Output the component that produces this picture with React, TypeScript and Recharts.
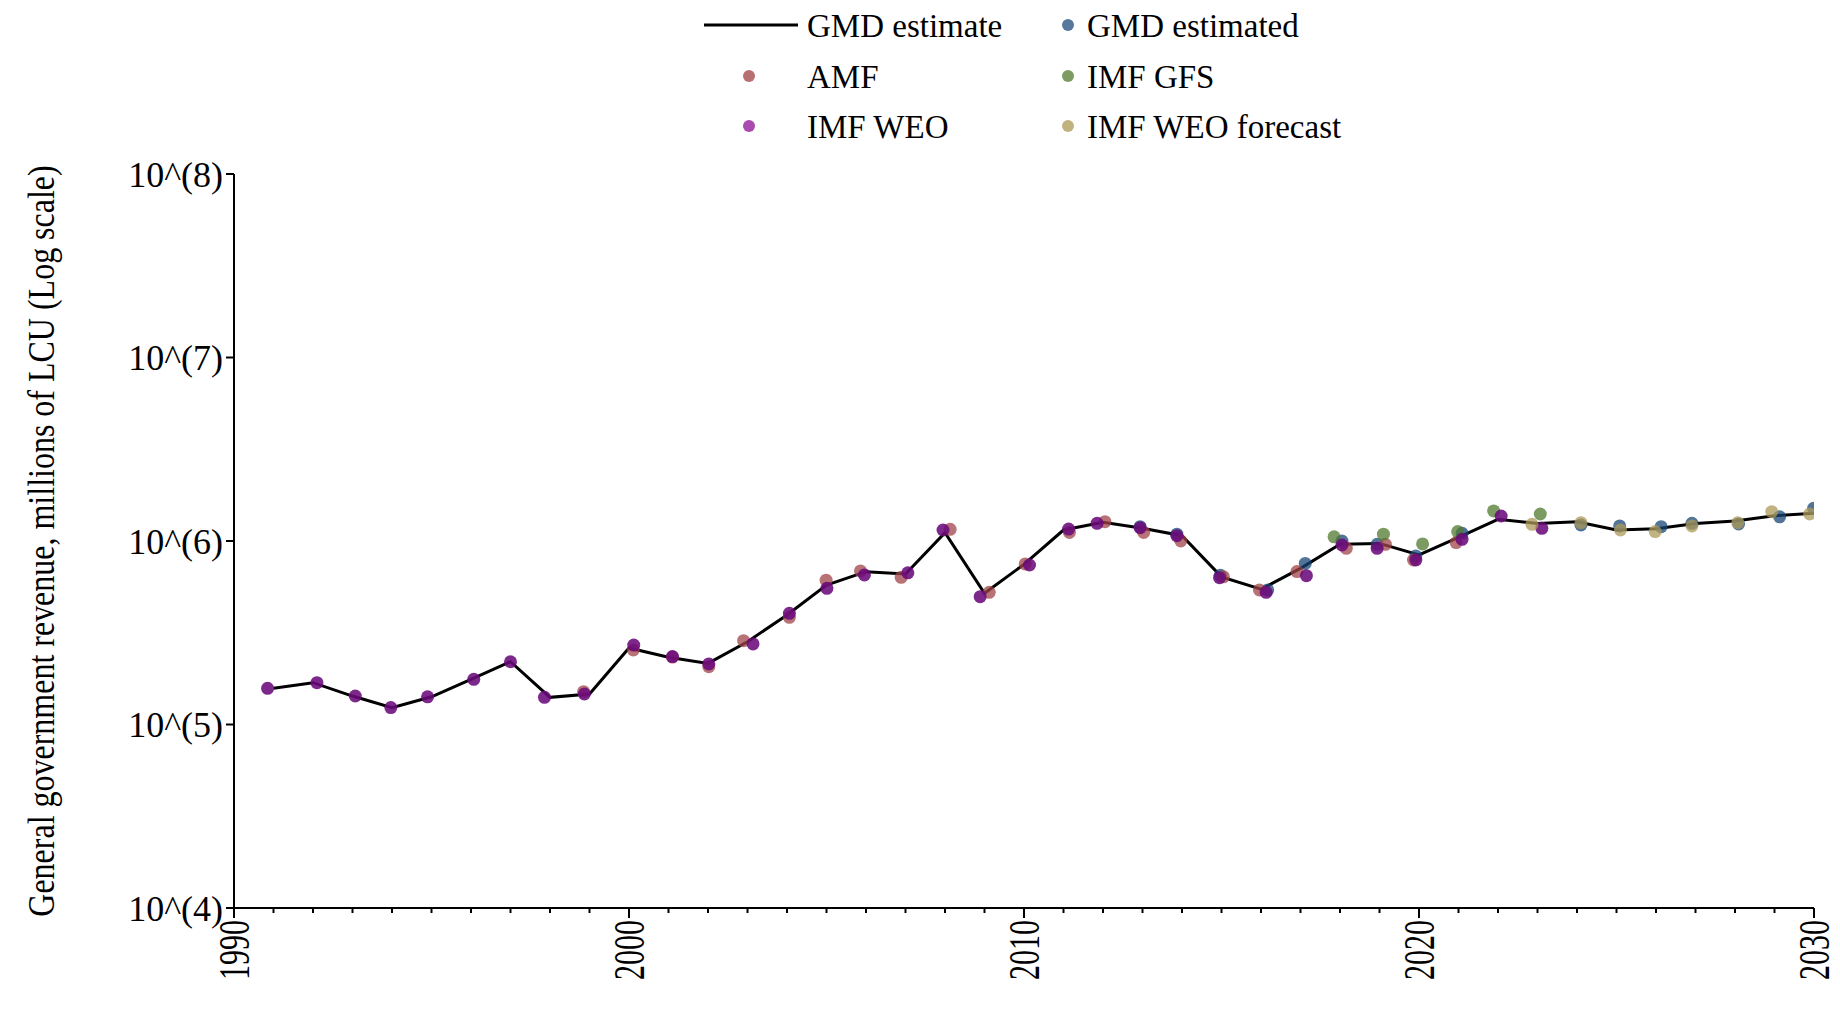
import React from 'react';
import { ComposedChart, Line, Scatter, XAxis, YAxis } from 'recharts';

const FONT = '"Liberation Serif", "Times New Roman", Times, serif';

// GMD estimate line, one value per year
const years = [
  1991, 1992, 1993, 1994, 1995, 1996, 1997, 1998, 1999, 2000,
  2001, 2002, 2003, 2004, 2005, 2006, 2007, 2008, 2009, 2010,
  2011, 2012, 2013, 2014, 2015, 2016, 2017, 2018, 2019, 2020,
  2021, 2022, 2023, 2024, 2025, 2026, 2027, 2028, 2029, 2030,
];
const gmdEstimate = [
  157400, 169000, 142900, 123600, 141600, 176200, 219800, 140600, 146600, 261200,
  232300, 215300, 282500, 395400, 575400, 680800, 660700, 1109000, 518800, 746000,
  1148000, 1265000, 1172000, 1069000, 638000, 545800, 709600, 959400, 970500, 839500,
  1047000, 1312000, 1247000, 1274000, 1148000, 1167000, 1247000, 1285000, 1374000, 1416000,
];

// source points: [year (jittered as drawn), value]
const gmdEstimated: [number, number][] = [
  [2012.94, 1197000], [2013.87, 1089000], [2014.97, 650000], [2016.17, 541000],
  [2017.12, 755000], [2018.05, 1000000], [2018.94, 959000], [2019.92, 828000],
  [2021.09, 1102000], [2024.1, 1222000], [2025.08, 1208000], [2026.13, 1197000],
  [2026.91, 1248000], [2028.09, 1239000], [2029.13, 1355000], [2029.99, 1507000],
];
const amf: [number, number][] = [
  [1998.85, 151000], [2000.11, 254700], [2001.1, 233000], [2002.02, 206500],
  [2002.9, 286400], [2004.06, 383700], [2004.99, 612000], [2005.86, 687000],
  [2006.89, 634000], [2008.13, 1158000], [2009.12, 525000], [2010.03, 750000],
  [2011.15, 1114000], [2012.05, 1274000], [2013.03, 1114000], [2013.97, 1000000],
  [2015.05, 638000], [2015.96, 541000], [2016.91, 681000], [2018.16, 912000],
  [2019.15, 959000], [2019.86, 788000], [2020.94, 980000],
];
const imfGfs: [number, number][] = [
  [2017.85, 1054000], [2019.1, 1089000], [2020.09, 964000],
  [2020.98, 1125000], [2021.89, 1459000], [2023.07, 1403000],
];
const imfWeo: [number, number][] = [
  [1990.85, 157400], [1992.1, 169000], [1993.07, 143000], [1993.97, 123600],
  [1994.9, 141600], [1996.07, 176200], [1997.0, 219800], [1997.86, 140600],
  [1998.87, 146600], [2000.12, 271000], [2001.1, 234400], [2002.02, 213800],
  [2003.14, 274800], [2004.06, 403600], [2005.01, 552000], [2005.96, 653000],
  [2007.06, 671000], [2007.95, 1148000], [2008.89, 497000], [2010.14, 740000],
  [2011.13, 1161000], [2011.85, 1248000], [2012.94, 1181000], [2013.87, 1069000],
  [2014.95, 631000], [2016.13, 525000], [2017.15, 647000], [2018.05, 951000],
  [2018.94, 912000], [2019.92, 788000], [2021.09, 1021000], [2022.08, 1368000],
  [2023.11, 1172000],
];
const imfWeoForecast: [number, number][] = [
  [2022.86, 1233000], [2024.1, 1259000], [2025.1, 1148000], [2025.98, 1125000],
  [2026.91, 1208000], [2028.07, 1259000], [2028.93, 1445000], [2029.89, 1403000],
];

const xTicks = [1990, ...years];
const yTicks = [1e4, 1e5, 1e6, 1e7, 1e8];

const lineData = years.map((x, i) => ({ x, y: gmdEstimate[i] }));
const toPts = (arr: [number, number][]) => arr.map(([x, y]) => ({ x, y }));

const scatterSeries = [
  { name: 'GMD estimated', data: gmdEstimated, fill: '#174575', opacity: 0.75, legend: '#56789c' },
  { name: 'AMF', data: amf, fill: '#a04448', opacity: 0.75, legend: '#b86f72' },
  { name: 'IMF GFS', data: imfGfs, fill: '#4f7a2e', opacity: 0.75, legend: '#7d9b62' },
  { name: 'IMF WEO', data: imfWeo, fill: '#6b0a7b', opacity: 0.88, legend: '#a84aae' },
  { name: 'IMF WEO forecast', data: imfWeoForecast, fill: '#ad9a5a', opacity: 0.75, legend: '#c2b27f' },
];

const dotShape = (fill: string, opacity: number) => (p: any) =>
  <circle cx={p.cx} cy={p.cy} r={6.5} fill={fill} fillOpacity={opacity} />;

function YearTick({ x, y, payload }: any) {
  const major = payload.value % 10 === 0;
  return (
    <g>
      <line x1={x} x2={x} y1={y} y2={y + (major ? 10 : 5)} stroke="#000" strokeWidth={2} />
      {major && (
        <text
          transform={`translate(${x},${y + 12}) rotate(-90) scale(1,1.45)`}
          textAnchor="end"
          dominantBaseline="central"
          fontSize={30}
          fontFamily={FONT}
          fill="#000"
        >
          {payload.value}
        </text>
      )}
    </g>
  );
}

function LegendBox() {
  const rows = [25, 76, 126];
  const col1 = [
    { name: 'GMD estimate', line: true, color: '#000' },
    { name: 'AMF', color: scatterSeries[1].legend },
    { name: 'IMF WEO', color: scatterSeries[3].legend },
  ];
  const col2 = [
    { name: 'GMD estimated', color: scatterSeries[0].legend },
    { name: 'IMF GFS', color: scatterSeries[2].legend },
    { name: 'IMF WEO forecast', color: scatterSeries[4].legend },
  ];
  return (
    <svg width={1840} height={160} style={{ position: 'absolute', left: 0, top: 0 }}>
      {col1.map((e, i) => (
        <g key={e.name}>
          {e.line
            ? <line x1={704} x2={798} y1={rows[i]} y2={rows[i]} stroke="#000" strokeWidth={3} />
            : <circle cx={749} cy={rows[i]} r={6} fill={e.color} />}
          <text x={807} y={rows[i]} dy="0.35em" fontSize={33} fontFamily={FONT} fill="#000">{e.name}</text>
        </g>
      ))}
      {col2.map((e, i) => (
        <g key={e.name}>
          <circle cx={1068} cy={rows[i]} r={6} fill={e.color} />
          <text x={1087} y={rows[i]} dy="0.35em" fontSize={33} fontFamily={FONT} fill="#000">{e.name}</text>
        </g>
      ))}
    </svg>
  );
}

export default function App() {
  return (
    <div style={{ position: 'relative', width: 1840, height: 1013, background: '#fff' }}>
      <style>{'body{margin:0}'}</style>
      <ComposedChart width={1840} height={1013} margin={{ top: 174, right: 26, bottom: 0, left: 0 }}>
        <XAxis
          dataKey="x"
          type="number"
          domain={[1990, 2030]}
          ticks={xTicks}
          interval={0}
          allowDataOverflow
          height={105}
          tickLine={false}
          tickSize={0}
          tickMargin={0}
          tick={<YearTick />}
          axisLine={{ stroke: '#000', strokeWidth: 2 }}
        />
        <YAxis
          dataKey="y"
          scale="log"
          domain={[1e4, 1e8]}
          ticks={yTicks}
          allowDataOverflow
          width={234}
          tickSize={8}
          tickMargin={3}
          tickLine={{ stroke: '#000', strokeWidth: 2 }}
          axisLine={{ stroke: '#000', strokeWidth: 2 }}
          tick={{ fontSize: 36, fill: '#000', fontFamily: FONT }}
          tickFormatter={(v: number) => `10^(${Math.round(Math.log10(v))})`}
          label={({ viewBox }: any) => (
            <text
              transform={`translate(42,${viewBox.y + viewBox.height / 2}) rotate(-90) scale(1,1.2)`}
              textAnchor="middle"
              dominantBaseline="central"
              fontSize={32}
              fontFamily={FONT}
              fill="#000"
            >
              General government revenue, millions of LCU (Log scale)
            </text>
          )}
        />
        <Line
          data={lineData}
          dataKey="y"
          stroke="#000"
          strokeWidth={3}
          dot={false}
          activeDot={false}
          isAnimationActive={false}
        />
        {scatterSeries.map((s) => (
          <Scatter
            key={s.name}
            name={s.name}
            data={toPts(s.data)}
            dataKey="y"
            shape={dotShape(s.fill, s.opacity)}
            isAnimationActive={false}
          />
        ))}
      </ComposedChart>
      <LegendBox />
    </div>
  );
}
